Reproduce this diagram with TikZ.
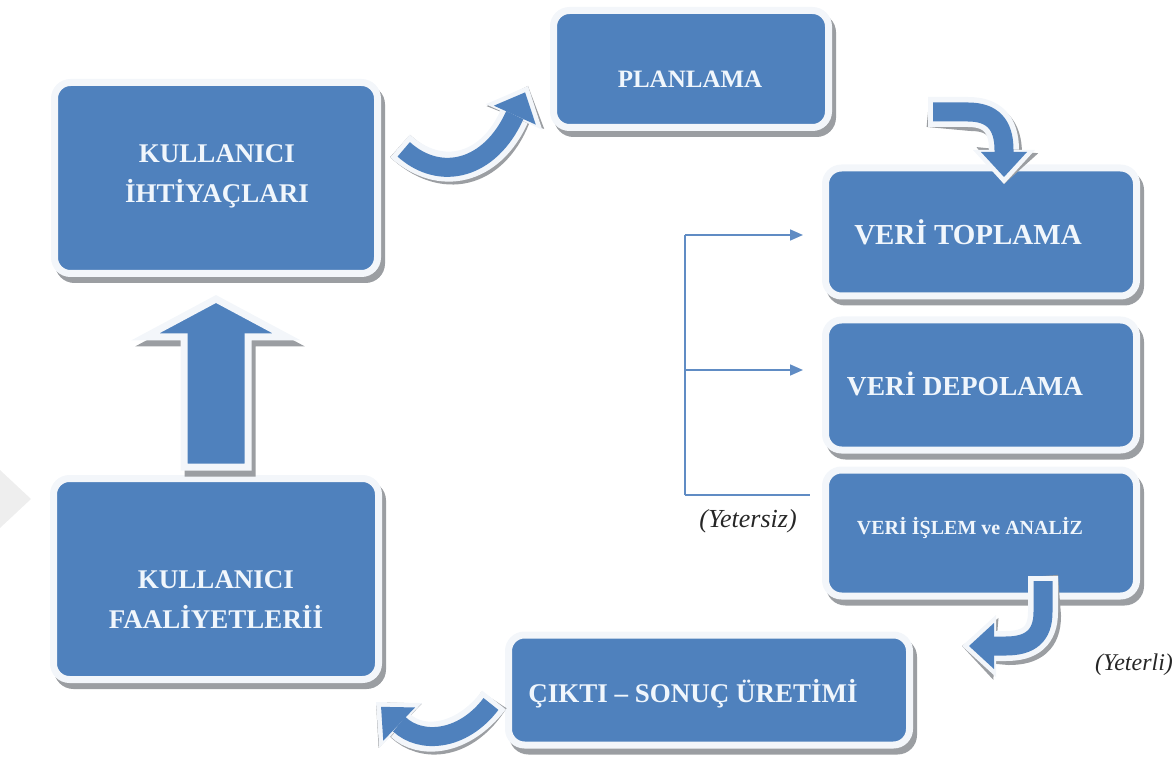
\documentclass[tikz,border=0pt]{standalone}
\usepackage{fontspec}
\setmainfont{Liberation Serif}
\usetikzlibrary{arrows.meta,shadows}

\definecolor{boxblue}{RGB}{79,129,189}
\definecolor{rimwhite}{RGB}{243,246,250}
\definecolor{shadowgray}{RGB}{155,158,162}
\definecolor{textwhite}{RGB}{240,246,252}
\definecolor{linkblue}{RGB}{96,140,196}
\definecolor{markgray}{RGB}{238,238,238}

\tikzset{
  % rounded process boxes with a white rim and a grey drop shadow
  stagebox/.style={rounded corners=16pt, fill=boxblue, draw=rimwhite, line width=7pt,
    general shadow={fill=shadowgray, draw=shadowgray, line width=7pt,
      shadow xshift=4pt, shadow yshift=-6pt},
    inner sep=0pt},
  % box captions
  caption/.style={text=textwhite, align=center, inner sep=0pt,
    font=\bfseries\fontsize{27}{40}\selectfont},
  % thick bent arrows, drawn in three layers
  bendshadow/.style={draw=shadowgray, line width=30pt,
    -{Triangle[length=34pt,width=62pt,line width=0pt]}, shift={(3pt,-4pt)}},
  bendrim/.style={draw=rimwhite, line width=30pt,
    -{Triangle[length=34pt,width=62pt,line width=0pt]}},
  bendcore/.style={draw=boxblue, line width=19pt,
    -{Triangle[length=25pt,width=46pt,line width=0pt]}, shorten >=7pt, shorten <=5pt},
  % thin feedback lines
  linkline/.style={draw=linkblue, line width=1.6pt},
  linkarrow/.style={linkline, -{Triangle[length=13pt,width=11pt]}},
  note/.style={font=\itshape\fontsize{24}{28}\selectfont, text=black!85, inner sep=0pt},
}

\begin{document}
\begin{tikzpicture}[x=1pt,y=-1pt]
\useasboundingbox (0,0) rectangle (1173,767);

% faint mark at the left edge
\fill[markgray] (0,470) -- (31,499) -- (0,528) -- cycle;

% process boxes
\node[stagebox, minimum width=323pt, minimum height=191pt] (ihtiyac) at (216,178) {};
\node[stagebox, minimum width=275pt, minimum height=117pt] (plan) at (691,69) {};
\node[stagebox, minimum width=311pt, minimum height=128pt] (toplama) at (981,232) {};
\node[stagebox, minimum width=311pt, minimum height=130pt] (depolama) at (981,385) {};
\node[stagebox, minimum width=311pt, minimum height=126pt] (analiz) at (981,533) {};
\node[stagebox, minimum width=325pt, minimum height=201pt] (faaliyet) at (216,579) {};
\node[stagebox, minimum width=401pt, minimum height=110pt] (cikti) at (709,690) {};

% captions
\node[caption] (ihtiyac-t) at (217,176) {KULLANICI\\İHTİYAÇLARI};
\node[caption, font=\bfseries\fontsize{25}{30}\selectfont] (plan-t) at (690,79) {PLANLAMA};
\node[caption, font=\bfseries\fontsize{29}{34}\selectfont] (toplama-t) at (968,232) {VERİ TOPLAMA};
\node[caption, font=\bfseries\fontsize{27.5}{34}\selectfont] (depolama-t) at (965,384) {VERİ DEPOLAMA};
\node[caption, font=\bfseries\fontsize{20}{24}\selectfont] (analiz-t) at (970,528) {VERİ İŞLEM ve ANALİZ};
\node[caption] (faaliyet-t) at (216,600) {KULLANICI\\FAALİYETLERİİ};
\node[caption] (cikti-t) at (693,694) {ÇIKTI – SONUÇ ÜRETİMİ};

% end points of the bent arrows
\coordinate (a1s) at (400,146);  \coordinate (a1e) at (528,86);
\coordinate (a2s) at (928,112);  \coordinate (a2e) at (1004,184);
\coordinate (a3s) at (1043,576); \coordinate (a3e) at (962,646);
\coordinate (a4s) at (494,700);  \coordinate (a4e) at (376,702);

% ihtiyac -> plan
\foreach \lay in {bendshadow,bendrim,bendcore}
  \draw[\lay] (a1s) .. controls (440,182) and (490,170) .. (a1e);
% plan -> toplama
\foreach \lay in {bendshadow,bendrim,bendcore}
  \draw[\lay] (a2s) -- (968,112) .. controls (992,112) and (1004,124) .. (1004,150) -- (a2e);
% analiz -> cikti
\foreach \lay in {bendshadow,bendrim,bendcore}
  \draw[\lay] (a3s) -- (1043,612) .. controls (1043,636) and (1030,646) .. (1006,646) -- (a3e);
% cikti -> faaliyet
\foreach \lay in {bendshadow,bendrim,bendcore}
  \draw[\lay] (a4s) .. controls (462,742) and (420,744) .. (a4e);

% upward block arrow from faaliyet to ihtiyac
\path[fill=boxblue, draw=rimwhite, line width=7pt, line join=miter,
  general shadow={fill=shadowgray, draw=shadowgray, line width=7pt, line join=miter,
    shadow xshift=4pt, shadow yshift=-6pt}]
  (184,467) -- (184,337) -- (145,337) -- (216,299) -- (287,337) -- (248,337)
  -- (248,467) -- cycle;

% feedback bracket: insufficient results go back to collection and storage
\coordinate (brtop) at (685,235);
\coordinate (brmid) at (685,370);
\coordinate (brbot) at (685,495);
\draw[linkline] (brbot) -- (brtop);
\draw[linkarrow, shorten >=19pt] (brtop) -- (toplama.west |- brtop);
\draw[linkarrow, shorten >=19pt] (brmid) -- (depolama.west |- brmid);
\draw[linkline, shorten >=12pt] (brbot) -- (analiz.west |- brbot);

\node[note, font=\itshape\fontsize{26}{30}\selectfont] (yetersiz) at (748,521) {(Yetersiz)};
\node[note] (yeterli) at (1134,665) {(Yeterli)};
\end{tikzpicture}
\end{document}
